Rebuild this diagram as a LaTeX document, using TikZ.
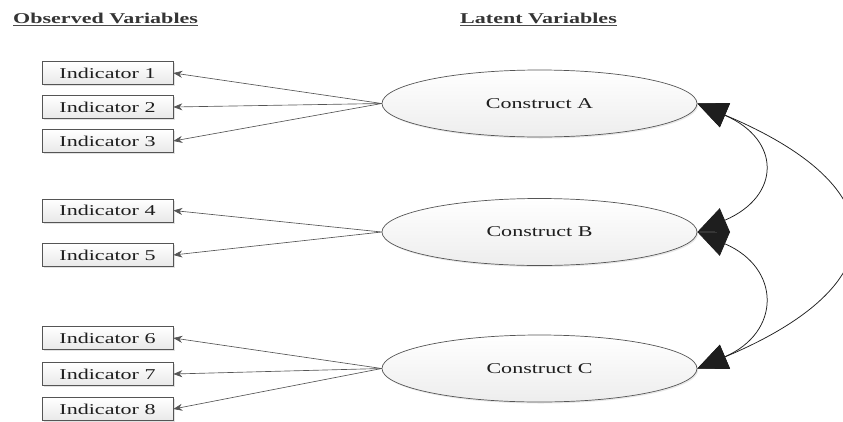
\documentclass[tikz,border=0pt]{standalone}
\usepackage{fontspec}
\setmainfont{Liberation Serif}[FakeStretch=1.47]
\usetikzlibrary{shapes.geometric,arrows.meta,shadows}
\definecolor{ink}{HTML}{1E1E1E}
\definecolor{edge}{HTML}{555555}
\begin{document}
\begin{tikzpicture}[x=1pt,y=-1pt,
  title/.style={font=\fontsize{15}{18}\selectfont\bfseries, text=ink!90, inner sep=0pt, anchor=base west},
  indbox/.style={draw=edge, line width=0.7pt, minimum width=131pt, minimum height=23pt, inner sep=0pt,
    top color=white, bottom color=gray!18, text=ink,
    drop shadow={shadow xshift=1.5pt, shadow yshift=-1.5pt, fill=gray!45},
    font=\fontsize{15}{18}\selectfont},
  construct/.style={ellipse, draw=edge, line width=0.7pt, minimum width=315pt, minimum height=67pt, inner sep=0pt,
    top color=white, bottom color=gray!14, text=ink,
    drop shadow={shadow xshift=1.2pt, shadow yshift=-1.5pt, fill=gray!35},
    font=\fontsize{15}{18}\selectfont},
  loading/.style={draw=edge, line width=0.65pt, -{Stealth[length=9pt,width=7pt]}},
  covar/.style={draw=ink, line width=0.75pt,
    {Triangle[length=30pt,width=26pt]}-{Triangle[length=30pt,width=26pt]}}
]
\useasboundingbox (0,0) rectangle (843,421);
\clip (0,0) rectangle (843,421);

% column headings
\node[title] (obs) at (13,23) {Observed Variables};
\node[title] (lat) at (460,23) {Latent Variables};
\draw[ink!80, line width=1.3pt] ([yshift=-2.2pt]obs.base west) -- ([yshift=-2.2pt]obs.base east);
\draw[ink!80, line width=1.3pt] ([yshift=-2.2pt]lat.base west) -- ([yshift=-2.2pt]lat.base east);

% observed indicators
\node[indbox] (i1) at (107.5,73)  {Indicator 1};
\node[indbox] (i2) at (107.5,107) {Indicator 2};
\node[indbox] (i3) at (107.5,141) {Indicator 3};
\node[indbox] (i4) at (107.5,210.5) {Indicator 4};
\node[indbox] (i5) at (107.5,255) {Indicator 5};
\node[indbox] (i6) at (107.5,338) {Indicator 6};
\node[indbox] (i7) at (107.5,374) {Indicator 7};
\node[indbox] (i8) at (107.5,409) {Indicator 8};

% latent constructs
\node[construct] (A) at (539.5,103.5) {Construct A};
\node[construct] (B) at (539.5,232)   {Construct B};
\node[construct] (C) at (539.5,368.5) {Construct C};

% factor loadings
\foreach \i in {1,2,3} \draw[loading] (A.west) -- (i\i.east);
\foreach \i in {4,5}   \draw[loading] (B.west) -- (i\i.east);
\foreach \i in {6,7,8} \draw[loading] (C.west) -- (i\i.east);

% covariances between constructs
\draw[covar] (A.east) .. controls +(84,36) and +(84,-36) .. (B.east);
\draw[covar] (B.east) .. controls +(84,36) and +(84,-36) .. (C.east);
\draw[covar] (A.east) .. controls +(200,84) and +(200,-84) .. (C.east);
\end{tikzpicture}
\end{document}
